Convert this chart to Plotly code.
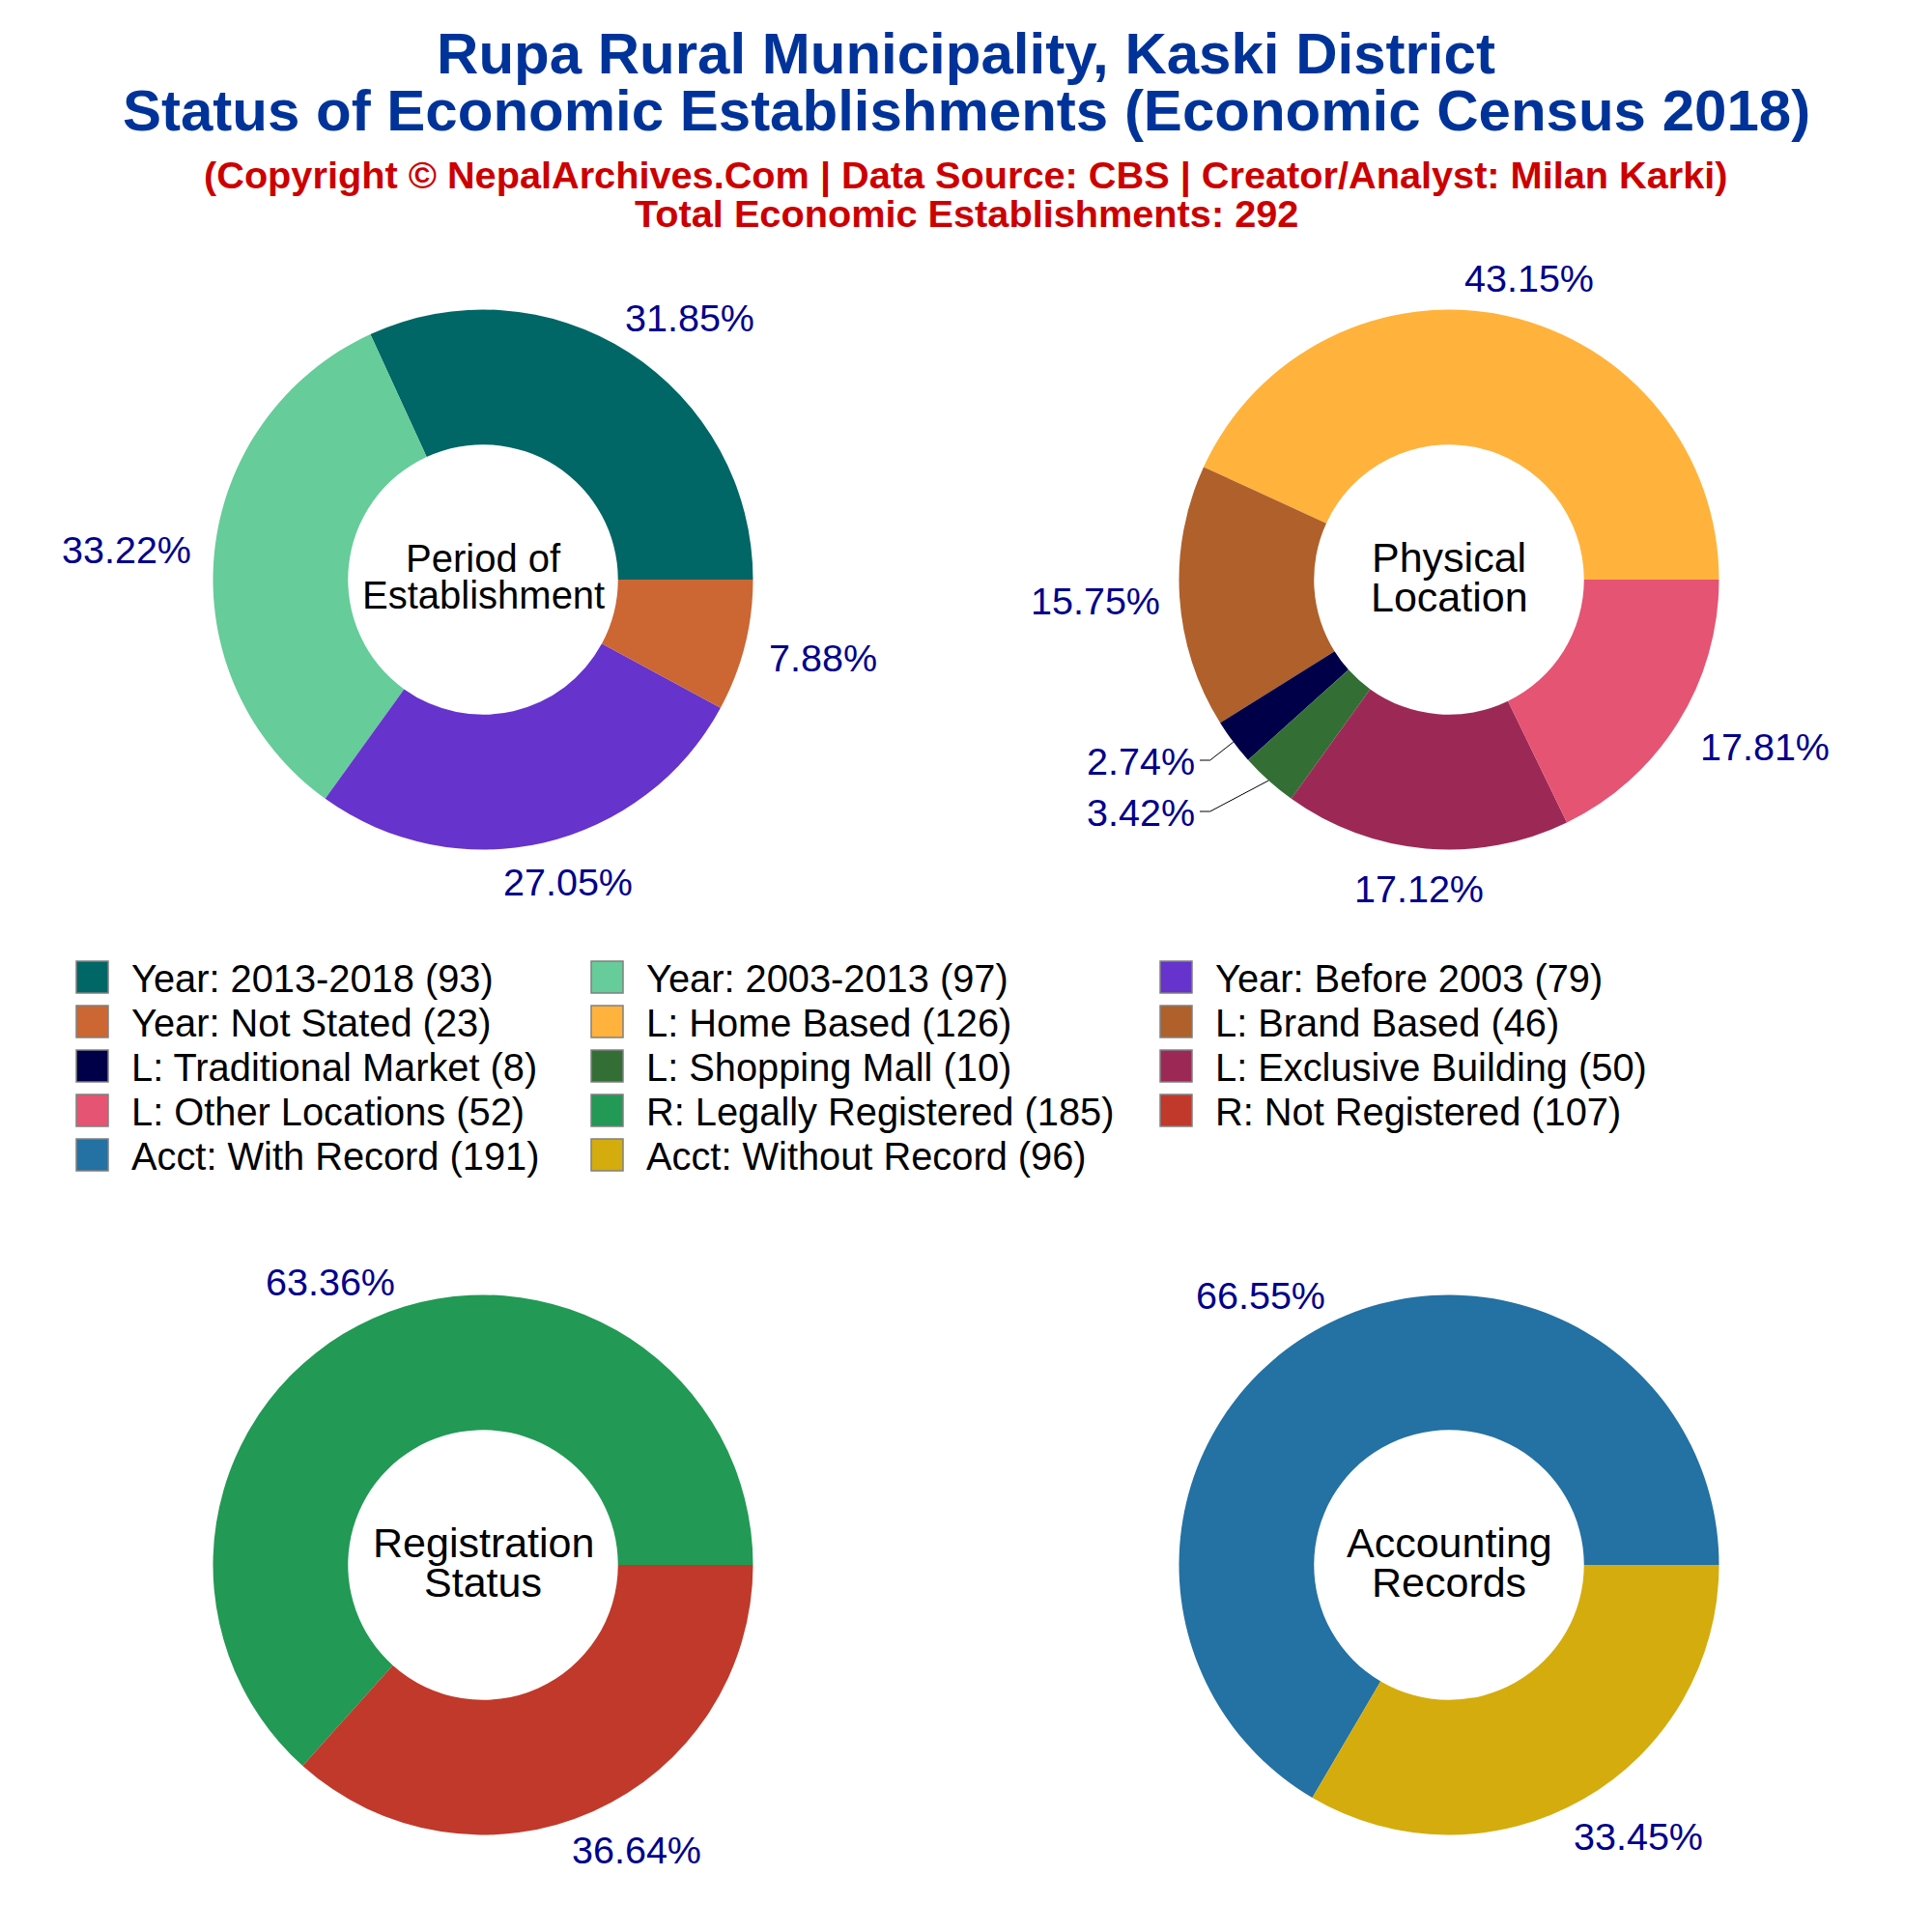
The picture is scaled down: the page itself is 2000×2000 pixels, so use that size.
import math
import plotly.graph_objects as go

PAGE_OFFSET = 8
W = 1984
H = 1984

FONT = "Liberation Sans, Arial, sans-serif"

title_line1 = "Rupa Rural Municipality, Kaski District"
title_line2 = "Status of Economic Establishments (Economic Census 2018)"
sub_line1 = "(Copyright © NepalArchives.Com | Data Source: CBS | Creator/Analyst: Milan Karki)"
sub_line2 = "Total Economic Establishments: 292"

period_labels = ["Year: 2013-2018", "Year: 2003-2013", "Year: Before 2003", "Year: Not Stated"]
period_values = [93, 97, 79, 23]
period_colors = ["#006666", "#66CC99", "#6633CC", "#CC6633"]

location_labels = ["L: Home Based", "L: Brand Based", "L: Traditional Market",
                   "L: Shopping Mall", "L: Exclusive Building", "L: Other Locations"]
location_values = [126, 46, 8, 10, 50, 52]
location_colors = ["#FFB33C", "#B0602B", "#000048", "#336F35", "#9C2955", "#E55472"]

registration_labels = ["R: Legally Registered", "R: Not Registered"]
registration_values = [185, 107]
registration_colors = ["#229955", "#C0392B"]

accounting_labels = ["Acct: With Record", "Acct: Without Record"]
accounting_values = [191, 96]
accounting_colors = ["#2471A3", "#D4AC0D"]

# Layout: percent-label centres in picture pixels, one list per pie
period_label_pos = [(714, 329), (131, 569), (588, 913), (852, 681)]
location_label_pos = [(1583, 288), (1134, 622), (1181, 788), (1181, 841), (1469, 920), (1827, 773)]
registration_label_pos = [(342, 1327), (659, 1915)]
accounting_label_pos = [(1305, 1341), (1696, 1901)]

pies = [
    (period_labels, period_values, period_colors, (500, 600), period_label_pos),
    (location_labels, location_values, location_colors, (1500, 600), location_label_pos),
    (registration_labels, registration_values, registration_colors, (500, 1620), registration_label_pos),
    (accounting_labels, accounting_values, accounting_colors, (1500, 1620), accounting_label_pos),
]
RADIUS = 279.5

# Slices (pie index, slice index) whose percent label has a leader line
leader_slices = [(1, 2), (1, 3)]
LEADER_ELBOW_X = 1252.7
LEADER_END_X = 1242

center_text = [
    ("Period of", 500, 578, 40), ("Establishment", 500, 616, 40),
    ("Physical", 1500, 577, 43), ("Location", 1500, 618, 43),
    ("Registration", 500, 1597, 43), ("Status", 500, 1638, 43),
    ("Accounting", 1500, 1597, 43), ("Records", 1500, 1638, 43),
]

legend_cols = [79, 612, 1201]
legend_row0 = 1011.5
legend_row_step = 46
legend_swatch = 33
legend_text_gap = 55


def px(x):
    return (x - PAGE_OFFSET) / W


def py(y):
    return 1 - (y - PAGE_OFFSET) / H


fig = go.Figure()
annotations = []
shapes = []


def text_at(text, x, y, size, color="black", bold=False, anchor="center"):
    annotations.append(dict(
        text=f"<b>{text}</b>" if bold else text, x=px(x), y=py(y), xref="paper", yref="paper",
        xanchor=anchor, yanchor="middle", showarrow=False,
        font=dict(family=FONT, size=size, color=color),
    ))


for labels, values, colors, (cx, cy), label_pos in pies:
    fig.add_trace(go.Pie(
        labels=labels, values=values, sort=False, direction="counterclockwise",
        rotation=90 - 360 * values[0] / sum(values),
        hole=0.5, marker=dict(colors=colors, line=dict(width=0)),
        textinfo="none",
        domain=dict(x=[px(cx - RADIUS), px(cx + RADIUS)], y=[py(cy + RADIUS), py(cy - RADIUS)]),
        showlegend=False, hoverinfo="label+value+percent",
    ))
    total = sum(values)
    for v, (lx, ly) in zip(values, label_pos):
        text_at(f"{100 * v / total:.2f}%", lx, ly, 39.5, "#00008B")

for pie_i, slice_i in leader_slices:
    _, values, _, (cx, cy), label_pos = pies[pie_i]
    total = sum(values)
    mid = (sum(values[:slice_i]) + values[slice_i] / 2) / total * 2 * math.pi
    x_edge = cx + RADIUS * math.cos(mid)
    y_edge = cy - RADIUS * math.sin(mid)
    y_label = label_pos[slice_i][1] - 1
    path = (f"M {px(LEADER_END_X)} {py(y_label)} L {px(LEADER_ELBOW_X)} {py(y_label)} "
            f"L {px(x_edge)} {py(y_edge)}")
    shapes.append(dict(type="path", xref="paper", yref="paper", path=path,
                       line=dict(color="black", width=1)))

text_at(title_line2, 1000, 114, 60, "#003399", True)
text_at(sub_line1, 1000, 182, 39.7, "#CC0000", True)
text_at(sub_line2, 1000, 221, 39.7, "#CC0000", True)
for t, x, y, s in center_text:
    text_at(t, x, y, s)

all_items = []
for labels, values, colors, _, _ in pies:
    all_items.extend(zip(labels, values, colors))
for i, (label, value, color) in enumerate(all_items):
    col = i % 3
    row = i // 3
    x0 = legend_cols[col]
    yc = legend_row0 + row * legend_row_step
    shapes.append(dict(
        type="rect", xref="paper", yref="paper",
        x0=px(x0), x1=px(x0 + legend_swatch),
        y0=py(yc + legend_swatch / 2), y1=py(yc - legend_swatch / 2),
        fillcolor=color, line=dict(color="#808080", width=1.5),
    ))
    text_at(f"{label} ({value})", x0 + legend_text_gap, yc + 1, 39.8, anchor="left")

fig.update_layout(
    width=W, height=H, margin=dict(l=0, r=0, t=0, b=0),
    paper_bgcolor="white", plot_bgcolor="white",
    font=dict(family=FONT),
    title=dict(text=f"<b>{title_line1}</b>", x=px(1000), xanchor="center", xref="paper",
               y=py(55), yanchor="middle", yref="container",
               font=dict(family=FONT, size=60, color="#003399")),
    annotations=annotations, shapes=shapes, showlegend=False,
)
fig.write_html("out.html")
